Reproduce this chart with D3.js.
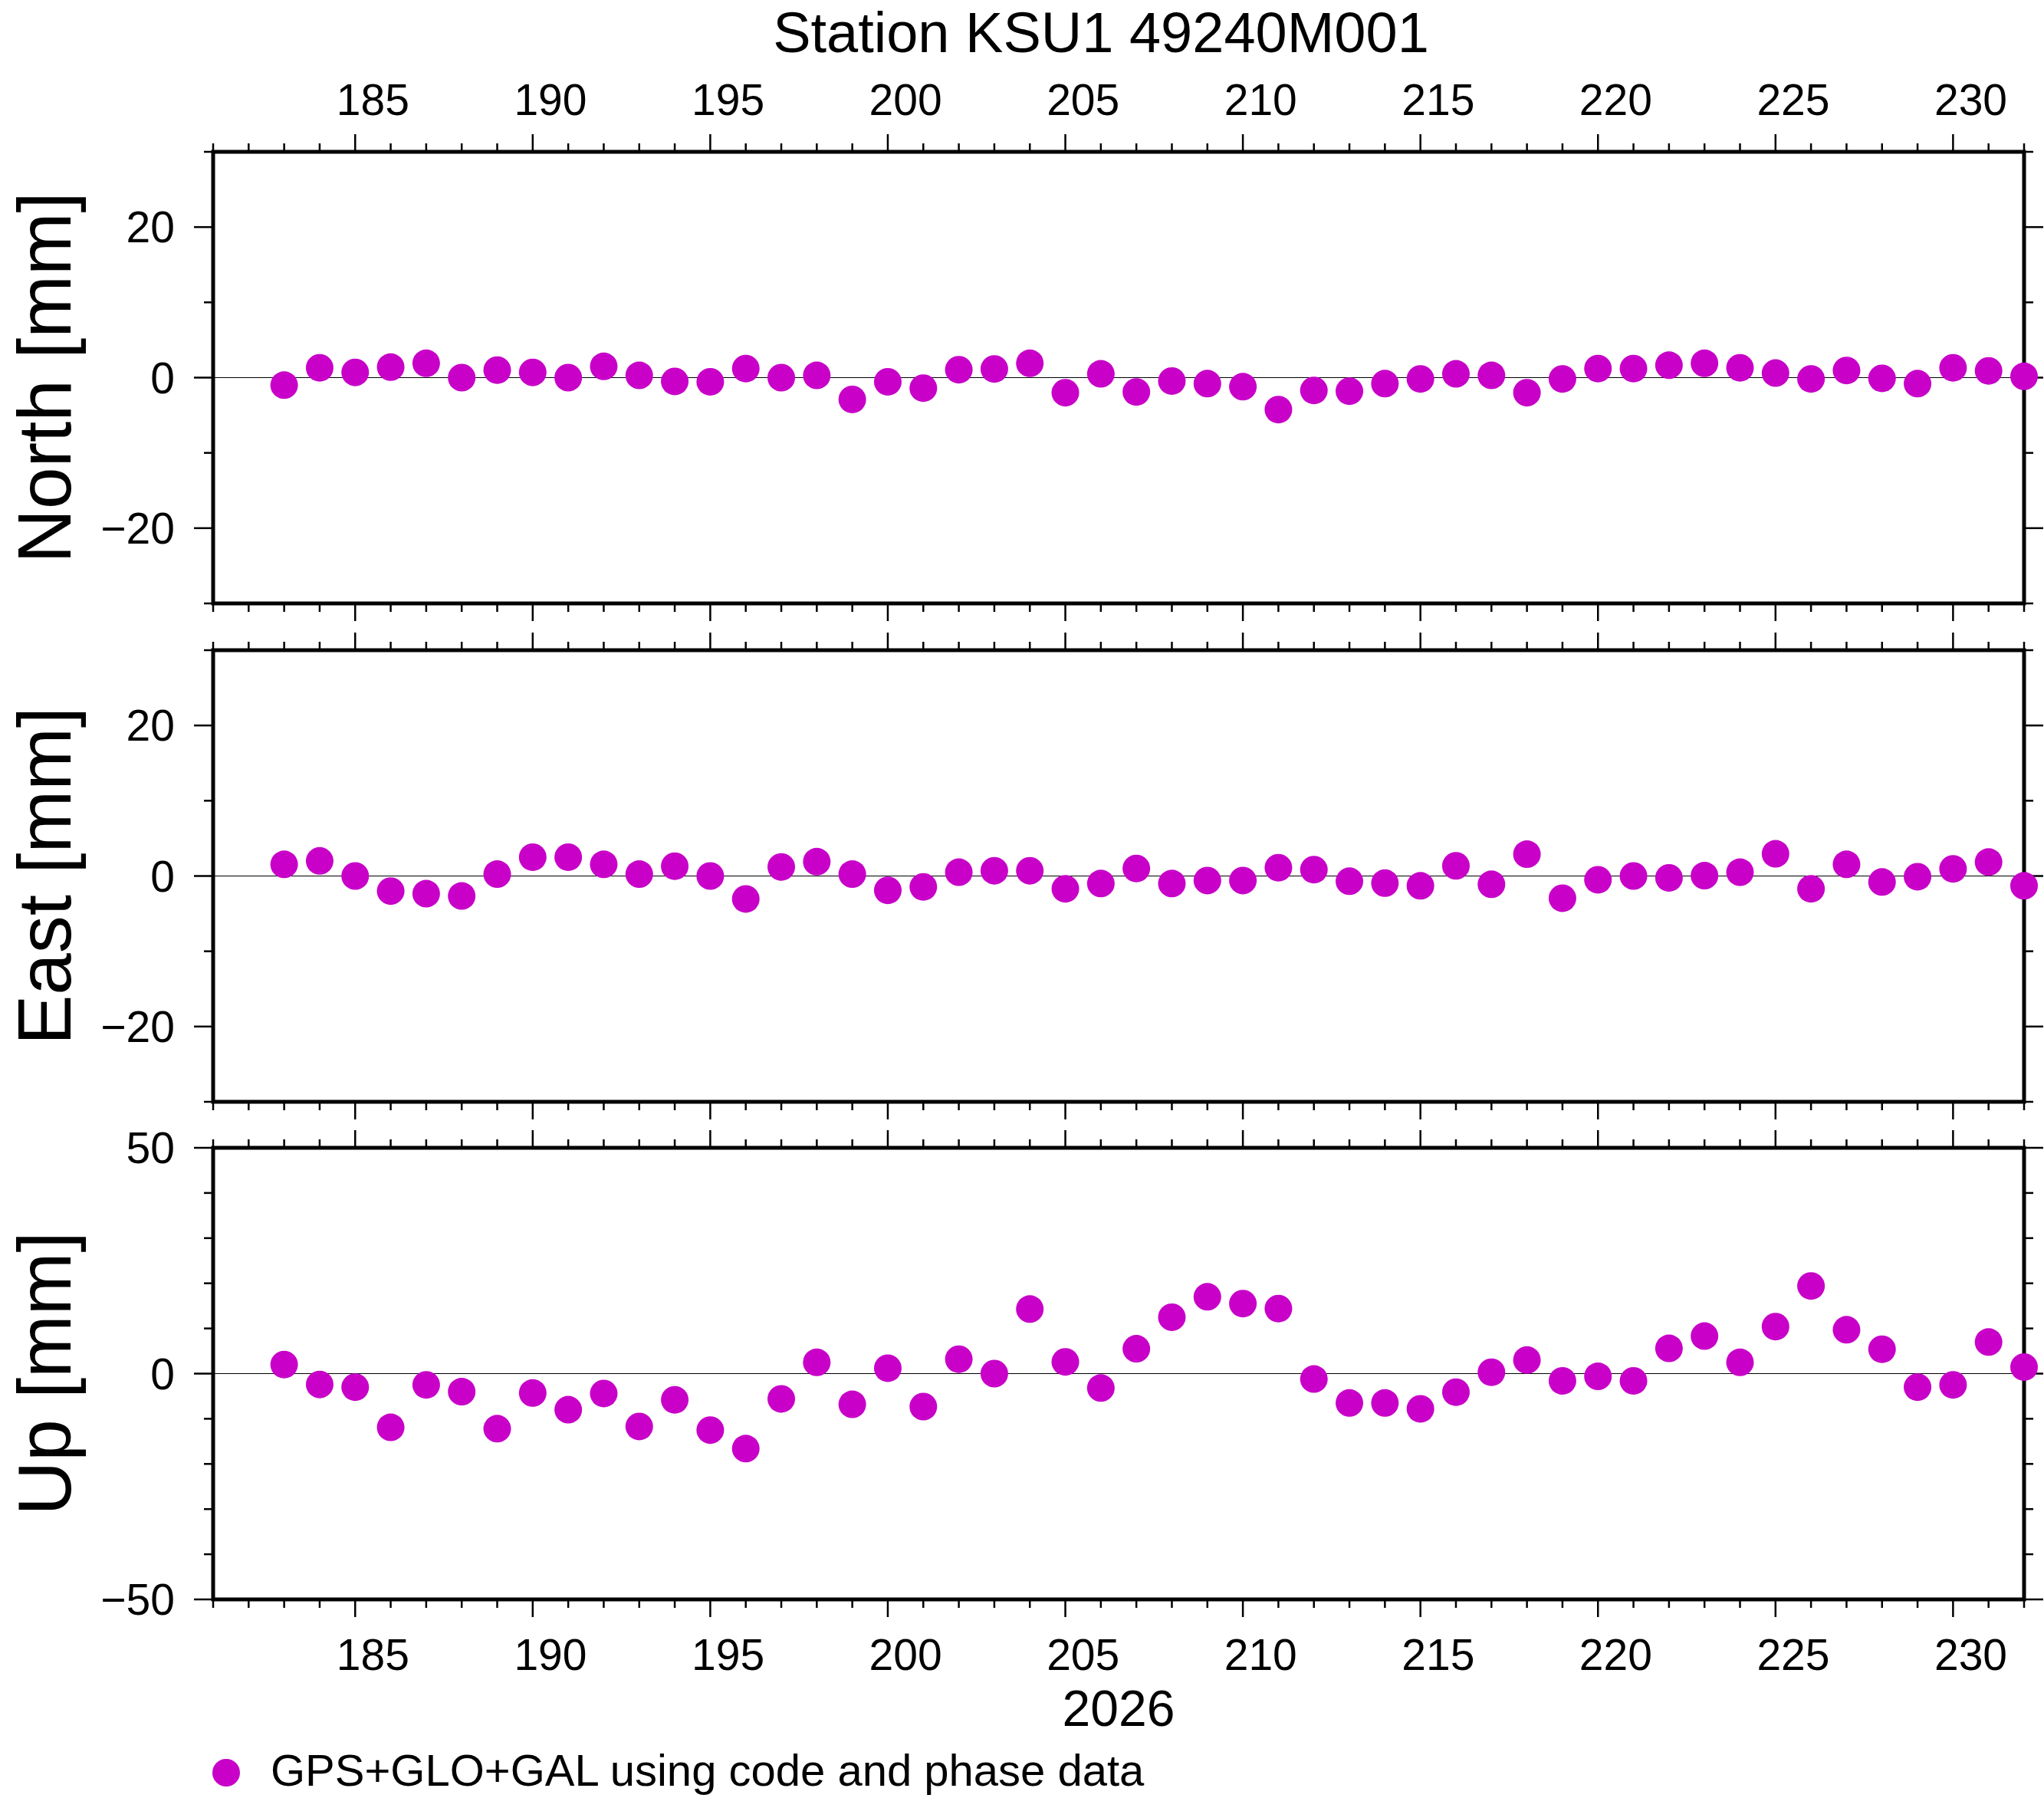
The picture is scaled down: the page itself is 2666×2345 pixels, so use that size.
<!DOCTYPE html>
<html>
<head>
<meta charset="utf-8">
<script src="https://cdn.jsdelivr.net/npm/d3@7"></script>
<style>
  body { margin: 0; background: #fff; }
  text { font-family: "Liberation Sans", Arial, Helvetica, sans-serif; fill: #000; }
</style>
</head>
<body>
<div id="chart"></div>
<script>
// ************************************************************ DATA
var days = [183, 184, 185, 186, 187, 188, 189, 190, 191, 192,
    193, 194, 195, 196, 197, 198, 199, 200, 201, 202,
    203, 204, 205, 206, 207, 208, 209, 210, 211, 212,
    213, 214, 215, 216, 217, 218, 219, 220, 221, 222,
    223, 224, 225, 226, 227, 228, 229, 230, 231, 232];

var north = [-1.0, 1.3, 0.7, 1.4, 1.9, 0.0, 1.0, 0.7, 0.0, 1.5,
    0.3, -0.5, -0.55, 1.2, 0.0, 0.3, -2.9, -0.55, -1.4, 1.05,
    1.15, 1.9, -2.0, 0.5, -1.9, -0.45, -0.8, -1.2, -4.25, -1.7,
    -1.8, -0.8, -0.17, 0.5, 0.3, -2.0, -0.17, 1.2, 1.2, 1.65,
    1.9, 1.3, 0.6, -0.17, 0.95, -0.1, -0.8, 1.3, 0.9, 0.17];

var east = [1.55, 2.0, 0.0, -2.0, -2.35, -2.65, 0.25, 2.5, 2.5, 1.55,
    0.25, 1.3, 0.0, -3.05, 1.2, 1.9, 0.25, -1.9, -1.45, 0.5,
    0.7, 0.7, -1.7, -1.0, 1.0, -1.0, -0.6, -0.6, 1.1, 0.85,
    -0.7, -0.95, -1.3, 1.35, -1.1, 2.9, -2.95, -0.5, 0.0, -0.25,
    0.05, 0.5, 2.95, -1.7, 1.55, -0.8, -0.1, 0.95, 1.85, -1.3];

var up = [2.0, -2.4, -3.0, -11.9, -2.5, -4.0, -12.2, -4.3, -8.0, -4.4,
    -11.7, -5.8, -12.5, -16.6, -5.6, 2.5, -6.8, 1.2, -7.3, 3.2,
    0.0, 14.3, 2.6, -3.2, 5.5, 12.5, 17.0, 15.5, 14.4, -1.2,
    -6.5, -6.5, -7.8, -4.1, 0.3, 3.0, -1.6, -0.6, -1.6, 5.6,
    8.3, 2.5, 10.4, 19.4, 9.7, 5.4, -3.0, -2.5, 7.0, 1.45];

var components = ["North", "East", "Up"];
var yRanges = [[-30, 30], [-30, 30], [-50, 50]];
var yLabelStep = [20, 20, 50];
var xRange = [181, 232];
var xLabelStep = 5;

var title = "Station KSU1 49240M001";
var yearLabel = "2026";
var legendLabel = "GPS+GLO+GAL using code and phase data";

// ************************************************************ LAYOUT
var width = 2666, height = 2345;
var left = 278, right = 2640;
var panelTops = [198, 848, 1497];
var panelH = 589;
var dotColor = "#c800c8";
var majorLen = 23, minorLen = 11;

var svg = d3.select("#chart").append("svg")
    .attr("width", width).attr("height", height);

svg.append("rect").attr("width", width).attr("height", height).attr("fill", "#fff");

var x = d3.scaleLinear().domain(xRange).range([left, right]);

var minorDays = d3.range(xRange[0], xRange[1] + 1);
var majorDays = minorDays.filter(function (d) { return d % xLabelStep === 0; });

var series = [north, east, up];

// ************************************************************ PANELS
components.forEach(function (name, p) {
    var top = panelTops[p], bottom = top + panelH;
    var y = d3.scaleLinear().domain(yRanges[p]).range([bottom, top]);
    var g = svg.append("g").attr("class", "panel-" + name);

    var yMinor = d3.range(yRanges[p][0], yRanges[p][1] + 1, 10);
    var yMajor = yMinor.filter(function (v) { return v % yLabelStep[p] === 0; });

    // zero line
    g.append("line")
        .attr("x1", left).attr("x2", right)
        .attr("y1", y(0)).attr("y2", y(0))
        .attr("stroke", "#000").attr("stroke-width", 1.2);

    // x ticks on top and bottom, pointing out
    var ticks = g.append("g").attr("stroke", "#000").attr("stroke-width", 2.5);
    [top, bottom].forEach(function (edge, k) {
        var dir = k === 0 ? -1 : 1;
        ticks.selectAll(null)
            .data(minorDays)
            .enter().append("line")
            .attr("x1", function (d) { return x(d); })
            .attr("x2", function (d) { return x(d); })
            .attr("y1", edge)
            .attr("y2", function (d) {
                return edge + dir * (d % xLabelStep === 0 ? majorLen : minorLen);
            });
    });

    // y ticks on left and right, pointing out
    [left, right].forEach(function (edge, k) {
        var dir = k === 0 ? -1 : 1;
        ticks.selectAll(null)
            .data(yMinor)
            .enter().append("line")
            .attr("y1", function (v) { return y(v); })
            .attr("y2", function (v) { return y(v); })
            .attr("x1", edge)
            .attr("x2", function (v) {
                return edge + dir * (v % yLabelStep[p] === 0 ? majorLen + 2 : minorLen + 1);
            });
    });

    // y labels
    g.selectAll("text.ylab")
        .data(yMajor)
        .enter().append("text")
        .attr("class", "ylab")
        .attr("x", left - 50)
        .attr("y", function (v) { return y(v) + 20; })
        .attr("text-anchor", "end")
        .attr("font-size", 57)
        .text(function (v) { return v < 0 ? "\u2212" + Math.abs(v) : v; });

    // axis title
    g.append("text")
        .attr("transform", "translate(92," + y(0) + ") rotate(-90)")
        .attr("text-anchor", "middle")
        .attr("font-size", 98)
        .text(name + " [mm]");

    // frame
    g.append("rect")
        .attr("x", left).attr("y", top)
        .attr("width", right - left).attr("height", panelH)
        .attr("fill", "none").attr("stroke", "#000").attr("stroke-width", 5);

    // dots
    g.selectAll("circle")
        .data(series[p])
        .enter().append("circle")
        .attr("cx", function (v, i) { return x(days[i]); })
        .attr("cy", function (v) { return y(v); })
        .attr("r", 18)
        .attr("fill", dotColor);
});

// ************************************************************ DAY LABELS
// annotations sit in the middle of each day interval
var labelRows = [150, 2178];
labelRows.forEach(function (base) {
    svg.selectAll(null)
        .data(majorDays)
        .enter().append("text")
        .attr("x", function (d) { return x(d + 0.5); })
        .attr("y", base)
        .attr("text-anchor", "middle")
        .attr("font-size", 57)
        .text(function (d) { return d; });
});

svg.append("text")
    .attr("x", (left + right) / 2).attr("y", 2251)
    .attr("text-anchor", "middle")
    .attr("font-size", 66)
    .text(yearLabel);

svg.append("text")
    .attr("x", 1436).attr("y", 68)
    .attr("text-anchor", "middle")
    .attr("font-size", 74)
    .text(title);

// ************************************************************ LEGEND
svg.append("circle")
    .attr("cx", 295).attr("cy", 2312).attr("r", 18)
    .attr("fill", dotColor);

svg.append("text")
    .attr("x", 353).attr("y", 2329)
    .attr("font-size", 58)
    .text(legendLabel);
</script>
</body>
</html>
